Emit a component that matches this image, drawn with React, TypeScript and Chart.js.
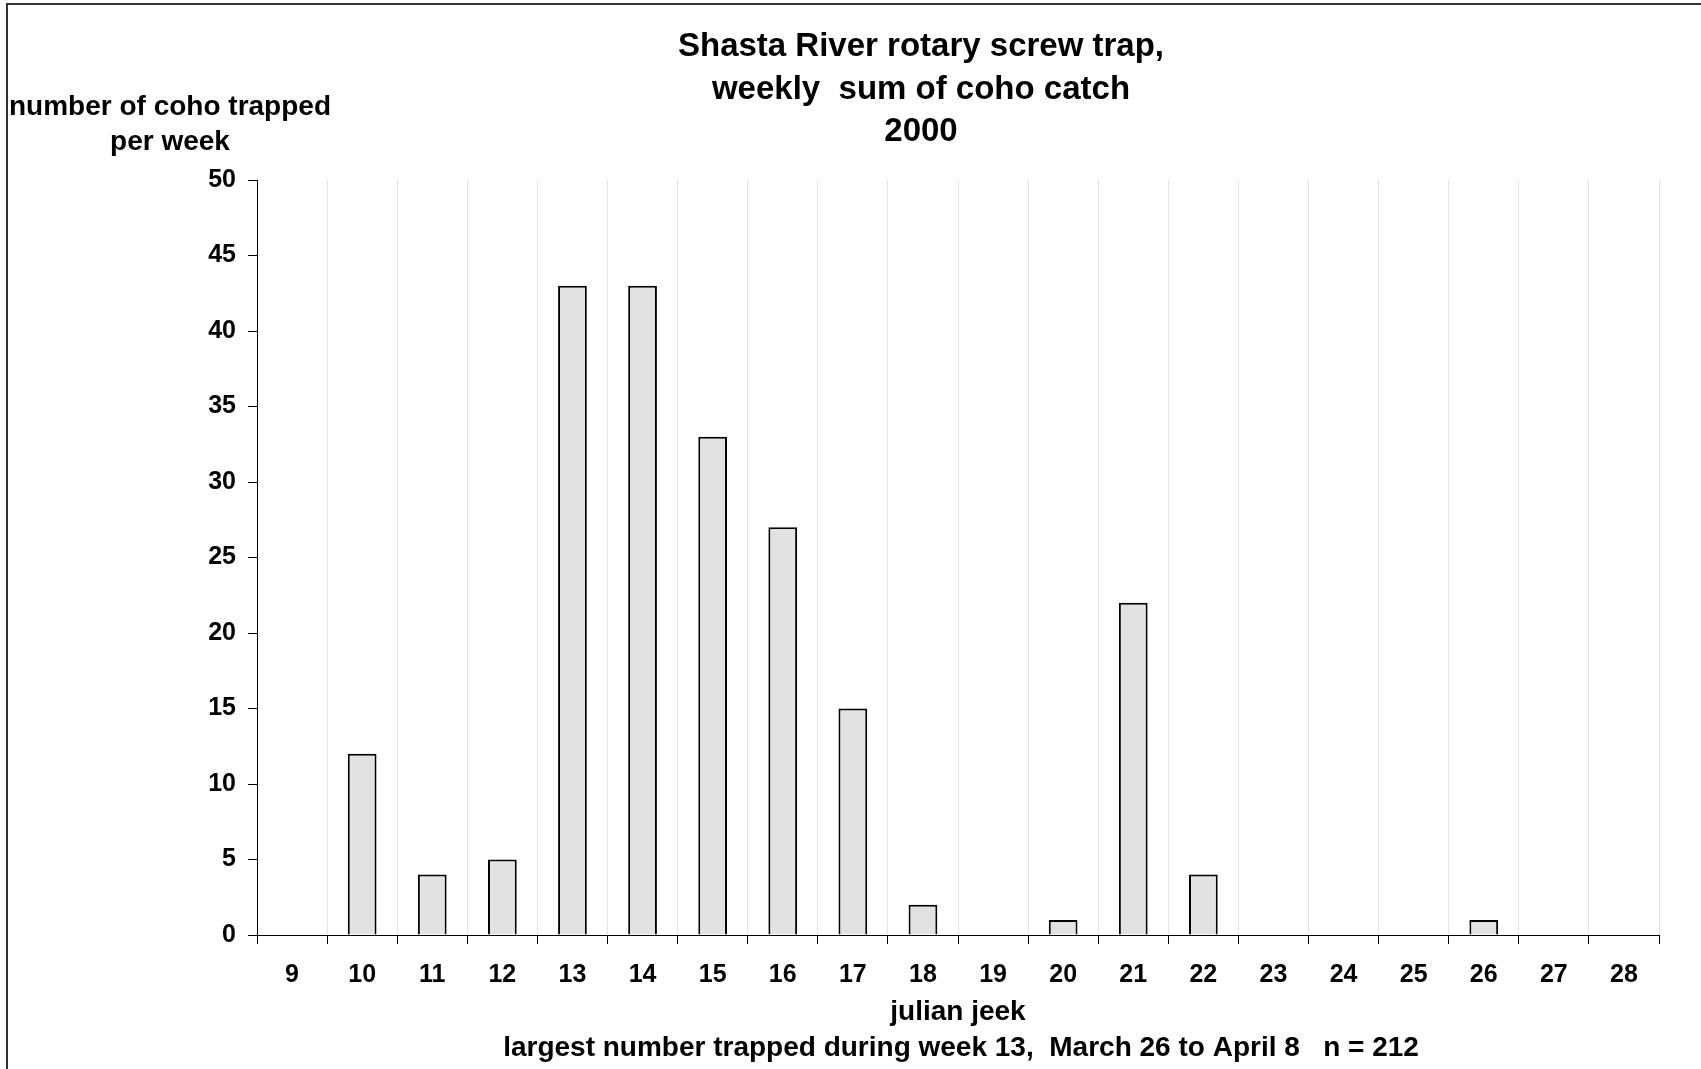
import React, { useEffect, useRef } from "react";
import { Chart, registerables } from "chart.js";

Chart.register(...registerables);

const weeks = ["9", "10", "11", "12", "13", "14", "15", "16", "17", "18", "19", "20", "21", "22", "23", "24", "25", "26", "27", "28"];
const cohoCatch = [0, 12, 4, 5, 43, 43, 33, 27, 15, 2, 0, 1, 22, 4, 0, 0, 0, 1, 0, 0];
const yMin = 0;
const yMax = 50;
const yStep = 5;
const titleLines = ["Shasta River rotary screw trap,", "weekly  sum of coho catch", "2000"];
const yTitleLines = ["number of coho trapped", "per week"];
const xTitle = "julian jeek";
const footnote = "largest number trapped during week 13,  March 26 to April 8   n = 212";

const FONT = '"Liberation Sans", Arial, Helvetica, sans-serif';

const textPlugin = {
  id: "textPlugin",
  beforeDraw(chart: any) {
    const ctx = chart.ctx;
    ctx.save();
    ctx.fillStyle = "#ffffff";
    ctx.fillRect(0, 0, chart.width, chart.height);
    ctx.strokeStyle = "#333333";
    ctx.lineWidth = 2;
    ctx.strokeRect(7, 4, chart.width + 20, chart.height + 20);
    ctx.restore();
  },
  afterDraw(chart: any) {
    const ctx = chart.ctx;
    const area = chart.chartArea;
    ctx.save();
    ctx.fillStyle = "#000";
    ctx.textAlign = "center";
    ctx.textBaseline = "middle";
    ctx.font = `bold 33px ${FONT}`;
    titleLines.forEach((t, i) => ctx.fillText(t, 921, 47 + i * 42.5));
    ctx.font = `bold 28px ${FONT}`;
    yTitleLines.forEach((t, i) => ctx.fillText(t, 170, 107 + i * 35));
    const cx = (area.left + area.right) / 2;
    ctx.fillText(xTitle, cx, 1012);
    ctx.fillText(footnote, cx + 3, 1048);
    ctx.restore();
  },
};

export default function App() {
  const ref = useRef<HTMLCanvasElement | null>(null);
  useEffect(() => {
    document.body.style.margin = "0";
    const canvas = ref.current!;
    const chart = new Chart(canvas, {
      type: "bar",
      data: {
        labels: weeks,
        datasets: [
          {
            data: cohoCatch,
            backgroundColor: "#e2e2e2",
            borderColor: "#000000",
            borderWidth: 2,
            barPercentage: 0.41,
            categoryPercentage: 1.0,
          },
        ],
      },
      options: {
        responsive: false,
        animation: false,
        devicePixelRatio: 1,
        layout: { padding: { top: 180, right: 42, left: 0, bottom: 0 } },
        plugins: {
          legend: { display: false },
          tooltip: { enabled: false },
          title: { display: false },
        },
        scales: {
          x: {
            grid: {
              offset: true,
              color: "#e4e4e4",
              lineWidth: 1,
              tickColor: "#000",
              tickLength: 9,
            },
            border: { color: "#000", width: 1 },
            ticks: {
              color: "#000",
              font: { family: FONT, size: 25, weight: "bold" },
              padding: 16,
              maxRotation: 0,
              autoSkip: false,
            },
            afterFit: (s: any) => {
              s.height = 134;
            },
          },
          y: {
            min: yMin,
            max: yMax,
            grid: {
              color: "rgba(0,0,0,0)",
              tickColor: "#000",
              tickLength: 9,
            },
            border: { color: "#000", width: 1 },
            ticks: {
              stepSize: yStep,
              color: "#000",
              font: { family: FONT, size: 25, weight: "bold" },
              padding: 12,
            },
            afterFit: (s: any) => {
              s.width = 257;
            },
          },
        },
      },
      plugins: [textPlugin],
    });
    return () => chart.destroy();
  }, []);
  return (
    <div style={{ width: 1701, height: 1069 }}>
      <canvas ref={ref} width={1701} height={1069} style={{ display: "block" }} />
    </div>
  );
}
